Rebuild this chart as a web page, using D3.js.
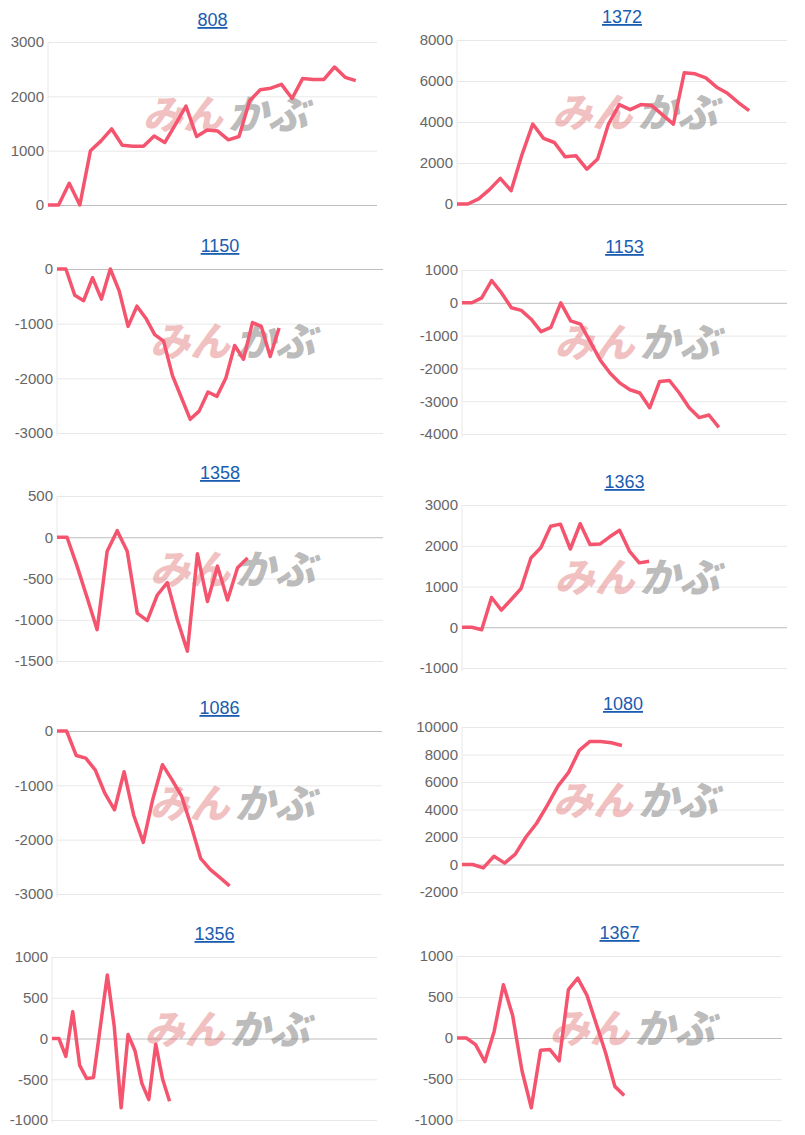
<!DOCTYPE html>
<html><head><meta charset="utf-8">
<script src="https://cdn.jsdelivr.net/npm/d3@7"></script>
<style>body{margin:0;background:#fff;font-family:Arial,"Liberation Sans",sans-serif}</style>
</head><body><svg id="c" width="805" height="1135"></svg>
<script>
const titles = ["808","1372","1150","1153","1358","1363","1086","1080","1356","1367"];
const s808 = [0,0,400,0,1000,1180,1400,1100,1080,1080,1270,1150,1480,1820,1260,1380,1360,1200,1260,1920,2120,2150,2220,1960,2330,2310,2310,2540,2350,2290];
const s1372 = [0,0,250,700,1250,650,2400,3900,3200,3000,2300,2350,1700,2200,3900,4850,4600,4850,4800,4350,3900,6400,6350,6150,5700,5400,4950,4550];
const s1150 = [0,0,-480,-580,-160,-550,0,-400,-1050,-680,-900,-1200,-1320,-1950,-2350,-2750,-2600,-2250,-2330,-2000,-1400,-1650,-980,-1050,-1600,-1080];
const s1153 = [0,0,150,680,300,-150,-230,-500,-880,-750,0,-550,-650,-1200,-1750,-2150,-2450,-2650,-2750,-3200,-2400,-2370,-2750,-3200,-3500,-3420,-3800];
const s1358 = [0,0,-350,-730,-1120,-170,80,-170,-920,-1010,-700,-550,-1000,-1380,-200,-780,-350,-760,-370,-250];
const s1363 = [0,0,-60,730,420,680,950,1700,1950,2480,2530,1920,2540,2030,2040,2220,2380,1870,1580,1620];
const s1086 = [0,0,-450,-500,-720,-1150,-1450,-750,-1550,-2050,-1250,-620,-900,-1200,-1750,-2350,-2550,-2700,-2850];
const s1080 = [0,0,-250,600,100,750,2000,3000,4300,5700,6700,8300,8950,8950,8850,8650];
const s1356 = [0,0,-220,330,-330,-490,-480,150,780,150,-850,50,-150,-550,-750,-70,-500,-770];
const s1367 = [0,0,-80,-290,80,650,270,-400,-850,-150,-140,-280,590,730,520,170,-180,-590,-700];
const series = [s808,s1372,s1150,s1153,s1358,s1363,s1086,s1080,s1356,s1367];
const yDomains = [[0,3000],[0,8000],[-3000,0],[-4000,1000],[-1500,500],[-1000,3000],[-3000,0],[-2000,10000],[-1000,1000],[-1000,1000]];
const yTicks = [[0,1000,2000,3000],[0,2000,4000,6000,8000],[-3000,-2000,-1000,0],[-4000,-3000,-2000,-1000,0,1000],[-1500,-1000,-500,0,500],[-1000,0,1000,2000,3000],[-3000,-2000,-1000,0],[-2000,0,2000,4000,6000,8000,10000],[-1000,-500,0,500,1000],[-1000,-500,0,500,1000]];
const xSlots = [31,30.5,36.7,32.9,32.5,33,33.9,30.2,47,35];
// layout: [left, right, top, bottom, titleY]
const layout = [[48,377,42,205,20],[457,787,40,204,17],[57,383,269,433,246],[462,787,270,434,247],[57,383,496,661,473],[462,787,505,668,482],[57,382,731,894,708],[462,784,727,892,704],[52,377,957,1120,934],[457,782,956,1120,933]];

const svg = d3.select("#c");
series.forEach((data,i)=>{
  const [l,r,t,b,ty] = layout[i];
  const x = d3.scaleLinear().domain([0,xSlots[i]]).range([l,r]);
  const y = d3.scaleLinear().domain(yDomains[i]).range([b,t]);
  const g = svg.append("g");
  g.append("text").attr("x",(l+r)/2).attr("y",ty+6).attr("text-anchor","middle")
    .attr("font-size",18).attr("fill","#1a5cb0").attr("text-decoration","underline").text(titles[i]);
  const ax = g.append("g").attr("transform",`translate(${l},0)`)
    .call(d3.axisLeft(y).tickValues(yTicks[i]).tickSize(-(r-l)).tickFormat(d=>String(d)));
  ax.select(".domain").remove();
  ax.selectAll(".tick line").attr("stroke",d=>d===0?"#bdbdbd":"#e8e8e8");
  ax.selectAll(".tick text").attr("fill","#666").attr("font-size",15).attr("x",-4).attr("font-family","Arial,'Liberation Sans',sans-serif");
  g.append("line").attr("x1",l).attr("x2",l).attr("y1",t).attr("y2",b+3).attr("stroke","#e8e8e8");
  const cx = l + (r-l)*0.54, cy = (t+b)/2 - 9;
  g.append("text").attr("x",cx-3).attr("y",cy+14).attr("text-anchor","end")
    .attr("font-family","'Noto Sans CJK JP'").attr("font-weight",900).attr("font-style","italic")
    .attr("font-size",40).attr("fill","rgba(220,90,90,0.38)").text("みん");
  g.append("text").attr("x",cx+2).attr("y",cy+14).attr("text-anchor","start")
    .attr("font-family","'Noto Sans CJK JP'").attr("font-weight",900).attr("font-style","italic")
    .attr("font-size",40).attr("fill","rgba(130,130,130,0.55)").text("かぶ");
  g.append("path").datum(data).attr("fill","none").attr("stroke","#f5546f").attr("stroke-width",3.5)
    .attr("stroke-linejoin","round")
    .attr("d",d3.line().x((d,j)=>x(j)).y(d=>y(d)));
});
</script></body></html>
